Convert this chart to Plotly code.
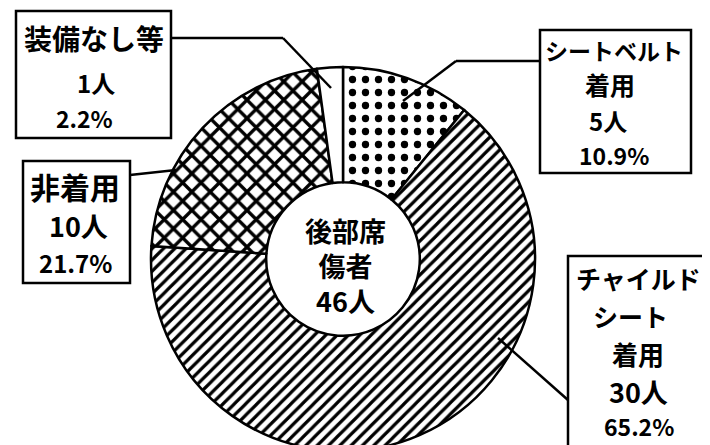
import plotly.graph_objects as go

W, H = 710, 445

labels = ["シートベルト着用", "チャイルドシート着用", "非着用", "装備なし等"]
counts = [5, 30, 10, 1]
percents = ["10.9%", "65.2%", "21.7%", "2.2%"]
patterns = [".", "/", "x", ""]
total = 46


def px(x):
    return x / W


def py(y):
    return 1 - y / H


fig = go.Figure(go.Pie(
    labels=labels, values=counts, sort=False, direction="clockwise", rotation=0,
    hole=0.40, textinfo="none", hoverinfo="label+value+percent",
    marker=dict(colors=["white"] * 4, line=dict(color="black", width=2.5),
                pattern=dict(shape=patterns, fgcolor="black", bgcolor="white",
                             size=[13, 8, 13, 8], solidity=[0.25, 0.4, 0.45, 0.3])),
    domain=dict(x=[px(143), px(527)], y=[py(443), py(59)]),
    showlegend=False,
))

font = "Noto Sans CJK JP"
anns = []
shapes = []


def box(x0, y0, x1, y1):
    shapes.append(dict(type="rect", xref="paper", yref="paper", x0=px(x0), x1=px(x1),
                       y0=py(y1), y1=py(y0), line=dict(color="black", width=2.5),
                       fillcolor="white", layer="above"))


def txt(t, x, y, size):
    anns.append(dict(text="<b>" + t + "</b>", x=px(x), y=py(y), xref="paper", yref="paper",
                     showarrow=False, xanchor="center", yanchor="middle",
                     font=dict(family=font, size=size, color="black")))


def line(pts):
    for (xa, ya), (xb, yb) in zip(pts[:-1], pts[1:]):
        shapes.append(dict(type="line", xref="paper", yref="paper", x0=px(xa), y0=py(ya),
                           x1=px(xb), y1=py(yb), line=dict(color="black", width=2.5)))


# leader lines
line([(163, 30), (275, 30), (323, 80)])
line([(532, 53), (448, 53), (395, 93)])
line([(122, 167), (168, 162)])
line([(560, 392), (490, 330)])

# 装備なし等
box(8, 3, 163, 130)
txt(labels[3], 86, 30, 28)
txt(f"{counts[3]}人", 88, 74, 24)
txt(percents[3], 76, 110, 23)

# シートベルト着用
box(532, 22, 683, 165)
txt("シートベルト", 606, 42, 23)
txt("着用", 602, 76, 25)
txt(f"{counts[0]}人", 600, 112, 24)
txt(percents[0], 606, 147, 23)

# 非着用
box(15, 153, 122, 275)
txt(labels[2], 67, 178, 30)
txt(f"{counts[2]}人", 70, 217, 27)
txt(percents[2], 67, 254, 24)

# チャイルドシート着用
box(560, 248, 702, 470)
txt("チャイルド", 630, 270, 25)
txt("シート", 622, 308, 25)
txt("着用", 630, 345, 26)
txt(f"{counts[1]}人", 630, 383, 27)
txt(percents[1], 631, 418, 23)

# center
txt(f"後部席<br>傷者<br>{total}人", 337, 257, 27)

fig.update_layout(width=W, height=H, margin=dict(l=0, r=0, t=0, b=0),
                  paper_bgcolor="white", plot_bgcolor="white",
                  annotations=anns, shapes=shapes)
fig.write_html("out.html")
